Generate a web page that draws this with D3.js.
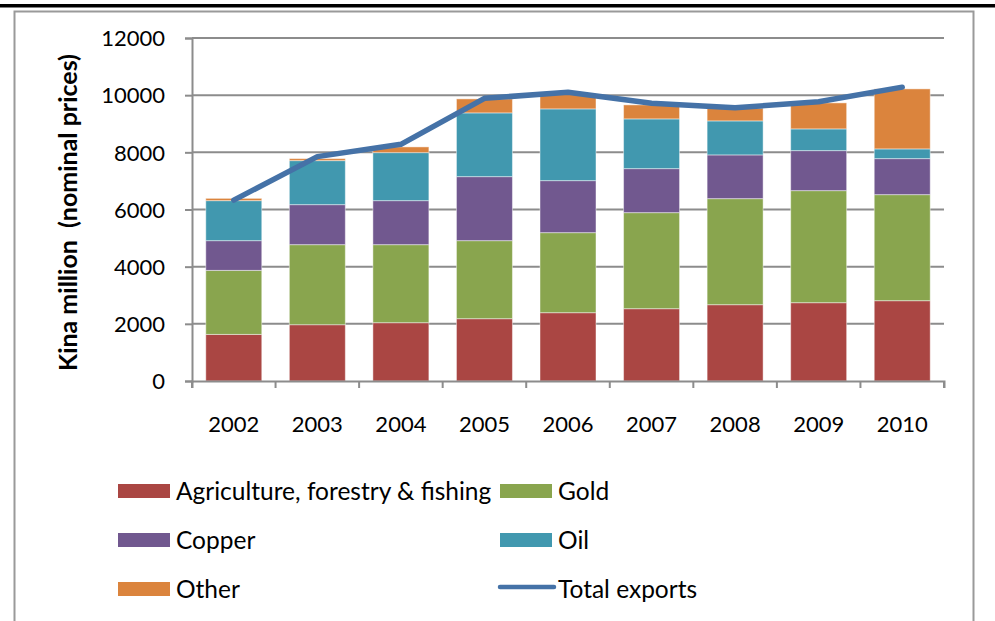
<!DOCTYPE html>
<html>
<head>
<meta charset="utf-8">
<script src="https://cdn.jsdelivr.net/npm/d3@7"></script>
<style>
  html, body { margin: 0; padding: 0; background: #ffffff; }
  svg { display: block; }
  text { font-family: Lato, "Open Sans", "Noto Sans", sans-serif; fill: #000; }
</style>
</head>
<body>
<script>
// PNG exports by sector, Kina million (nominal prices)
const years = ["2002", "2003", "2004", "2005", "2006", "2007", "2008", "2009", "2010"];
const agriculture = [1630, 1970, 2040, 2180, 2390, 2530, 2670, 2740, 2810];
const gold        = [2240, 2800, 2730, 2730, 2800, 3360, 3710, 3920, 3710];
const copper      = [1040, 1400, 1540, 2240, 1820, 1540, 1530, 1400, 1260];
const oil         = [1400, 1540, 1680, 2230, 2510, 1740, 1190, 760, 340];
const other       = [80, 70, 200, 490, 530, 490, 440, 910, 2100];
const totalExports = [6330, 7850, 8280, 9890, 10100, 9720, 9560, 9770, 10280];
const yTicks = [0, 2000, 4000, 6000, 8000, 10000, 12000];

const seriesNames = ["Agriculture, forestry & fishing", "Gold", "Copper", "Oil", "Other"];
const seriesValues = [agriculture, gold, copper, oil, other];
const seriesColors = ["#AA4643", "#89A54E", "#71588F", "#4198AF", "#DB843D"];
const lineColor = "#4572A7";
const gridColor = "#8c8c8c";

const W = 995, H = 621;
const svg = d3.select("body").append("svg").attr("width", W).attr("height", H);

// page furniture: rule along the top and the chart frame
svg.append("rect").attr("x", 0).attr("y", 4).attr("width", W).attr("height", 3.5).attr("fill", "#000");
svg.append("path").attr("d", "M14.5,621V11.5H973.5V621")
  .attr("fill", "none").attr("stroke", "#9a9a9a").attr("stroke-width", 2);

const plot = { left: 192, right: 944, top: 38, bottom: 381 };

const x = d3.scaleBand().domain(years).range([plot.left, plot.right]).padding(0);
const y = d3.scaleLinear().domain([0, 12000]).range([plot.bottom, plot.top]);
const barW = x.bandwidth() * 0.67;

// horizontal gridlines
svg.append("g").selectAll("line").data(yTicks.filter(d => d > 0)).join("line")
  .attr("x1", plot.left).attr("x2", plot.right)
  .attr("y1", d => y(d)).attr("y2", d => y(d))
  .attr("stroke", gridColor).attr("stroke-width", 2);

// y axis
const yAxis = svg.append("g").attr("transform", `translate(${plot.left},0)`)
  .call(d3.axisLeft(y).tickValues(yTicks).tickSize(7).tickPadding(20).tickFormat(d3.format("d")));
yAxis.select(".domain").attr("stroke", gridColor).attr("stroke-width", 2);
yAxis.selectAll(".tick line").attr("stroke", gridColor).attr("stroke-width", 2);
yAxis.selectAll(".tick text").attr("font-size", 22).attr("font-family", null).attr("dy", "0.35em");

// stacked bars
const rows = years.map((yr, i) => {
  const r = { year: yr };
  seriesNames.forEach((n, k) => { r[n] = seriesValues[k][i]; });
  return r;
});
const stacked = d3.stack().keys(seriesNames)(rows);
svg.append("g").selectAll("g").data(stacked).join("g")
  .attr("fill", (d, k) => seriesColors[k])
  .selectAll("rect").data(d => d).join("rect")
  .attr("x", d => x(d.data.year) + (x.bandwidth() - barW) / 2)
  .attr("width", barW)
  .attr("y", d => y(d[1]))
  .attr("height", d => y(d[0]) - y(d[1]))
  .attr("stroke", "rgba(255,255,255,0.45)").attr("stroke-width", 1);

// x axis
const xAxis = svg.append("g").attr("transform", `translate(0,${plot.bottom})`)
  .call(d3.axisBottom(x).tickSize(7).tickPadding(27).tickSizeOuter(7));
xAxis.select(".domain").attr("stroke", gridColor).attr("stroke-width", 2);
xAxis.selectAll(".tick line").attr("stroke", gridColor).attr("stroke-width", 2)
  .attr("transform", `translate(${-x.bandwidth() / 2},0)`);
xAxis.append("line").attr("x1", plot.right).attr("x2", plot.right).attr("y1", 0).attr("y2", 7)
  .attr("stroke", gridColor).attr("stroke-width", 2);
xAxis.selectAll(".tick text").attr("font-size", 22).attr("font-family", null).attr("dy", "0.75em");

// total exports line
const line = d3.line().x((d, i) => x(years[i]) + x.bandwidth() / 2).y(d => y(d));
svg.append("path").datum(totalExports).attr("d", line)
  .attr("fill", "none").attr("stroke", lineColor).attr("stroke-width", 5.5)
  .attr("stroke-linejoin", "round").attr("stroke-linecap", "round");

// y axis title
svg.append("text")
  .attr("transform", `translate(77,${(plot.top + plot.bottom) / 2 + 3}) rotate(-90)`)
  .attr("text-anchor", "middle").attr("font-weight", "bold").attr("font-size", 25)
  .style("white-space", "pre")
  .text("Kina million  (nominal prices)");

// legend
const legendItems = [
  { name: seriesNames[0], color: seriesColors[0], type: "box" },
  { name: seriesNames[1], color: seriesColors[1], type: "box" },
  { name: seriesNames[2], color: seriesColors[2], type: "box" },
  { name: seriesNames[3], color: seriesColors[3], type: "box" },
  { name: seriesNames[4], color: seriesColors[4], type: "box" },
  { name: "Total exports", color: lineColor, type: "line" }
];
const colX = [118, 500], rowY = [491, 540, 589];
const lg = svg.append("g").selectAll("g").data(legendItems).join("g")
  .attr("transform", (d, i) => `translate(${colX[i % 2]},${rowY[Math.floor(i / 2)]})`);
lg.filter(d => d.type === "box").append("rect")
  .attr("x", 0).attr("y", -7).attr("width", 52).attr("height", 14).attr("fill", d => d.color);
lg.filter(d => d.type === "line").append("line")
  .attr("x1", 0).attr("x2", 54).attr("y1", -2).attr("y2", -2)
  .attr("stroke", d => d.color).attr("stroke-width", 4.5).attr("stroke-linecap", "round");
lg.append("text").attr("x", 58).attr("y", 0).attr("dy", "0.35em")
  .attr("font-size", 24.5).text(d => d.name);
</script>
</body>
</html>
